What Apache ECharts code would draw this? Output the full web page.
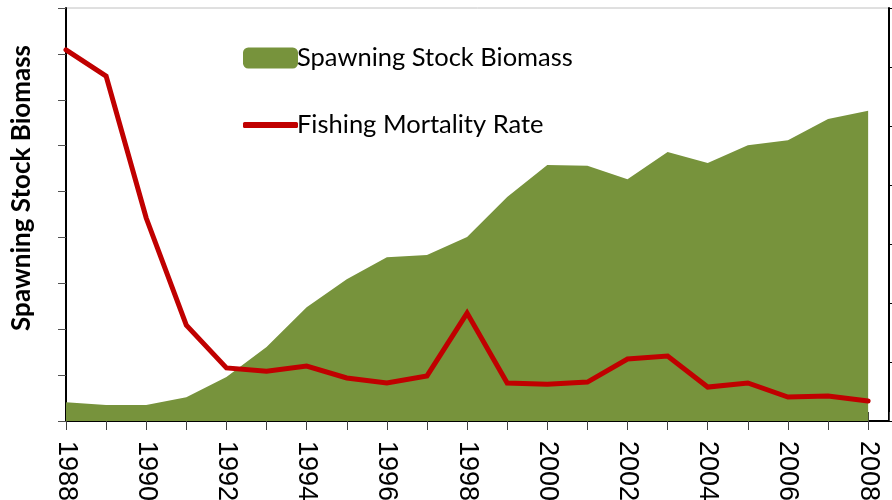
<!DOCTYPE html>
<html>
<head>
<meta charset="utf-8">
<script src="https://cdn.jsdelivr.net/npm/echarts@6/dist/echarts.min.js"></script>
<style>
html,body{margin:0;padding:0;background:#fff;}
#chart{width:892px;height:500px;}
</style>
</head>
<body>
<div id="chart"></div>
<script>
const years = [1988,1989,1990,1991,1992,1993,1994,1995,1996,1997,1998,1999,2000,2001,2002,2003,2004,2005,2006,2007,2008];
const biomass = [41,35,35,52,96,161,248,309,357,362,401,488,558,556,527,586,562,601,612,658,676];
const mortality = [1.258,1.169,0.688,0.325,0.180,0.169,0.186,0.146,0.129,0.153,0.366,0.129,0.125,0.132,0.210,0.220,0.115,0.129,0.081,0.085,0.068];
const tickLabels = ['1988','1990','1992','1994','1996','1998','2000','2002','2004','2006','2008'];
const seriesNames = ['Spawning Stock Biomass','Fishing Mortality Rate'];
const yTitle = 'Spawning Stock Biomass';

const chart = echarts.init(document.getElementById('chart'));
const xMin = 1988, xMax = 2008.52;
const option = {
  animation: false,
  grid: {left: 66, right: 3, top: 8, bottom: 79, show: true, borderColor: '#c0c0c0', borderWidth: 1,
         containLabel: false, outerBoundsMode: 'none'},
  graphic: [{
    type: 'text', left: 9, top: 45, z: 10,
    style: {text: yTitle, font: 'bold 26px Lato', fill: '#000'},
    rotation: Math.PI/2, originX: 0, originY: 0
  }],
  legend: [
    {data: [seriesNames[0]], left: 238, top: 40, itemWidth: 55, itemHeight: 21, icon: 'roundRect', itemGap: 0,
     textStyle: {fontFamily: 'Lato', fontSize: 25.5, color: '#000', padding: [0,0,0,-6]}},
    {data: [seriesNames[1]], left: 238, top: 107, itemWidth: 55, itemHeight: 6, icon: 'roundRect', itemGap: 0,
     textStyle: {fontFamily: 'Lato', fontSize: 25.5, color: '#000', padding: [0,0,0,-6]}}
  ],
  xAxis: [
    {type: 'value', min: xMin, max: xMax, interval: 1, position: 'bottom',
     axisLine: {show: true, onZero: false, lineStyle: {color: '#000', width: 2}},
     axisTick: {show: true, inside: false, length: 9, lineStyle: {color: '#404040', width: 1}},
     axisLabel: {rotate: -90, margin: 20, fontFamily: 'Liberation Sans', fontSize: 27, color: '#000',
       showMaxLabel: false,
       formatter: function(v){ const s = String(Math.round(v)); return (Math.abs(v - Math.round(v)) < 1e-6 && tickLabels.indexOf(s) >= 0) ? s : ''; }},
     splitLine: {show: false}},
    {type: 'value', min: xMin, max: xMax, interval: 1, position: 'bottom',
     axisLine: {show: false},
     axisTick: {show: true, inside: true, length: 9, lineStyle: {color: '#404040', width: 1}},
     axisLabel: {show: false}, splitLine: {show: false}}
  ],
  yAxis: [
    {type: 'value', min: 0, max: 900, interval: 100, position: 'left',
     axisLine: {show: true, onZero: false, lineStyle: {color: '#000', width: 2}},
     axisTick: {show: true, inside: false, length: 8, lineStyle: {color: '#505050', width: 1}},
     axisLabel: {show: false}, splitLine: {show: false}},
    {type: 'value', min: 0, max: 1.4, interval: 0.2, position: 'right',
     axisLine: {show: true, onZero: false, lineStyle: {color: '#000', width: 2}},
     axisTick: {show: true, inside: false, length: 5, lineStyle: {color: '#000', width: 1}},
     axisLabel: {show: false}, splitLine: {show: false}}
  ],
  series: [
    {name: seriesNames[0], type: 'line', xAxisIndex: 0, yAxisIndex: 0,
     data: years.map((y,i)=>[y, biomass[i]]),
     showSymbol: false, symbol: 'none',
     lineStyle: {width: 0, color: '#77933C'},
     itemStyle: {color: '#77933C'},
     areaStyle: {color: '#77933C', opacity: 1}, z: 1},
    {name: seriesNames[1], type: 'line', xAxisIndex: 0, yAxisIndex: 1,
     data: years.map((y,i)=>[y, mortality[i]]),
     showSymbol: false, symbol: 'none',
     lineStyle: {width: 5, color: '#C00000', cap: 'round', join: 'miter'},
     itemStyle: {color: '#C00000'}, z: 3}
  ]
};
chart.setOption(option);
</script>
</body>
</html>
